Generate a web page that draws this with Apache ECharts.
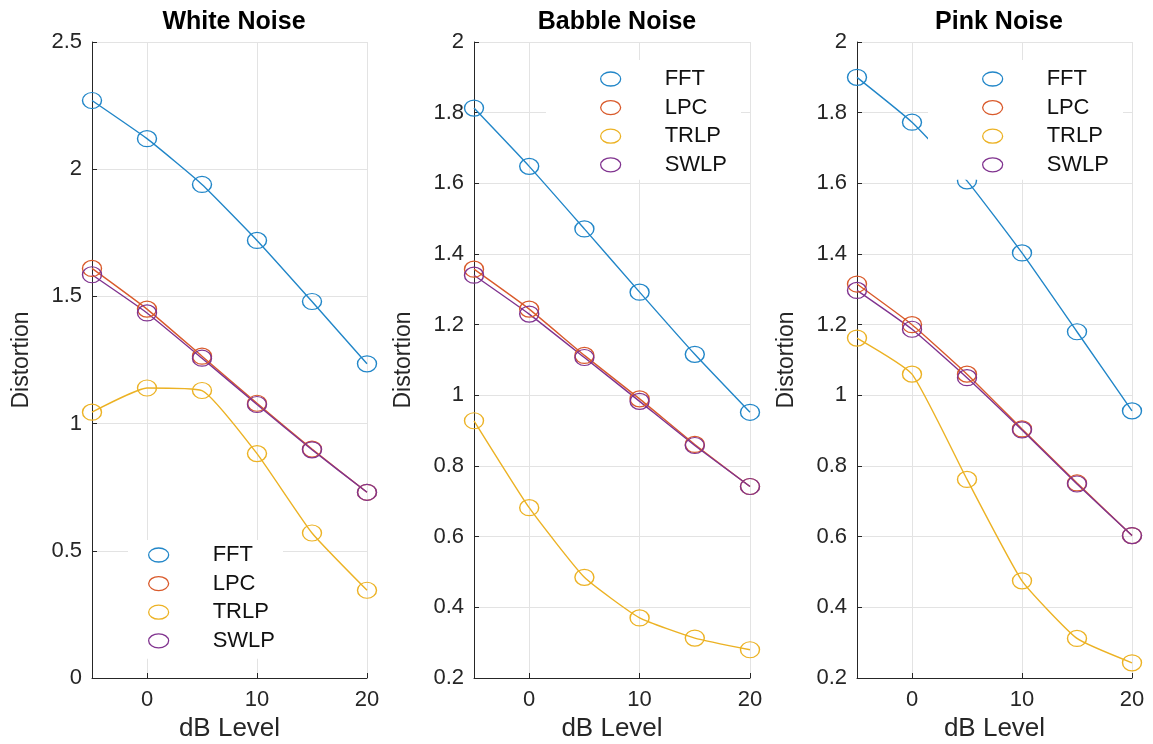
<!DOCTYPE html>
<html>
<head>
<meta charset="utf-8">
<script src="https://cdn.jsdelivr.net/npm/echarts@6/dist/echarts.min.js"></script>
<style>
  html, body { margin: 0; background: #fff; }
  #chart { width: 1153px; height: 744px; }
</style>
</head>
<body>
<div id="chart"></div>
<script>
var dbLevels = [-5, 0, 5, 10, 15, 20];
var xTicks = [0, 10, 20];
var methods = ['FFT', 'LPC', 'TRLP', 'SWLP'];
var panelTitles = ['White Noise', 'Babble Noise', 'Pink Noise'];

// White noise
var whiteFFT  = [2.27, 2.12, 1.94, 1.72, 1.48, 1.235];
var whiteLPC  = [1.61, 1.45, 1.265, 1.08, 0.9, 0.73];
var whiteTRLP = [1.045, 1.14, 1.13, 0.882, 0.57, 0.345];
var whiteSWLP = [1.585, 1.435, 1.257, 1.075, 0.897, 0.73];

// Babble noise
var babbleFFT  = [1.813, 1.648, 1.471, 1.292, 1.116, 0.952];
var babbleLPC  = [1.357, 1.244, 1.113, 0.99, 0.861, 0.742];
var babbleTRLP = [0.928, 0.682, 0.485, 0.37, 0.313, 0.28];
var babbleSWLP = [1.34, 1.23, 1.107, 0.983, 0.858, 0.742];

// Pink noise
var pinkFFT  = [1.9, 1.773, 1.607, 1.403, 1.18, 0.956];
var pinkLPC  = [1.315, 1.2, 1.06, 0.905, 0.752, 0.603];
var pinkTRLP = [1.162, 1.06, 0.762, 0.475, 0.312, 0.243];
var pinkSWLP = [1.297, 1.187, 1.05, 0.902, 0.749, 0.603];

var panelData = [
  [whiteFFT, whiteLPC, whiteTRLP, whiteSWLP],
  [babbleFFT, babbleLPC, babbleTRLP, babbleSWLP],
  [pinkFFT, pinkLPC, pinkTRLP, pinkSWLP]
];
var yRanges = [[0, 2.5, 0.5], [0.2, 2, 0.2], [0.2, 2, 0.2]];

var colors = ['#2186c8', '#d95a2b', '#ecb224', '#80338f'];
var axisColor = '#262626';
var font = 'Liberation Sans, Arial, sans-serif';

// layout of each subplot (px)
var grids = [
  { left: 92, right: 786, top: 42, bottom: 66, outerBoundsMode: 'none' },
  { left: 474, right: 403, top: 42, bottom: 66, outerBoundsMode: 'none' },
  { left: 857, right: 21, top: 42, bottom: 66, outerBoundsMode: 'none' }
];
var legendPos = [
  { left: 128, top: 540, padding: [3, 8, 6, 20] },
  { left: 546, top: 60, padding: [7, 14, 3, 54] },
  { left: 928, top: 60, padding: [7, 14, 3, 54] }
];
var titleX = [229, 612, 994];

var ellipse = 'path://M0,6A8,6 0 1,1 16,6A8,6 0 1,1 0,6Z';

function pairs(vals) {
  return dbLevels.map(function (x, i) { return [x, vals[i]]; });
}

var option = {
  backgroundColor: '#fff',
  animation: false,
  title: panelTitles.map(function (t, i) {
    return {
      text: t, left: titleX[i], top: 5, textAlign: 'center',
      textStyle: { fontFamily: font, fontSize: 25, fontWeight: 'bold', color: '#000' }
    };
  }),
  grid: grids,
  legend: legendPos.map(function (p) {
    return {
      orient: 'vertical',
      left: p.left, top: p.top, padding: p.padding,
      backgroundColor: '#fff',
      itemWidth: 20, itemHeight: 14, itemGap: 4.6,
      symbolKeepAspect: false,
      selectedMode: false,
      z: 10,
      textStyle: { fontFamily: font, fontSize: 22, color: '#111', lineHeight: 24, padding: [0, 0, 0, 39] },
      data: methods.map(function (m, k) {
        return { name: m, icon: ellipse, itemStyle: { color: '#fff', borderColor: colors[k], borderWidth: 1.3 } };
      })
    };
  }),
  xAxis: grids.map(function (g, i) {
    return {
      type: 'value', gridIndex: i, min: -5, max: 20,
      name: 'dB Level', nameLocation: 'middle', nameGap: 35,
      nameTextStyle: { fontFamily: font, fontSize: 26, color: axisColor },
      axisLine: { show: true, onZero: false, lineStyle: { color: axisColor, width: 1 } },
      axisTick: { show: true, inside: true, length: 5, customValues: xTicks, lineStyle: { color: axisColor } },
      axisLabel: { customValues: xTicks, margin: 11, fontFamily: font, fontSize: 22, color: axisColor },
      splitLine: { show: true, lineStyle: { color: '#e3e3e3', width: 1 } }
    };
  }),
  yAxis: grids.map(function (g, i) {
    var r = yRanges[i];
    return {
      type: 'value', gridIndex: i, min: r[0], max: r[1], interval: r[2],
      name: 'Distortion', nameLocation: 'middle', nameGap: 59, nameRotate: 90,
      nameTextStyle: { fontFamily: font, fontSize: 23, color: axisColor },
      axisLine: { show: true, onZero: false, lineStyle: { color: axisColor, width: 1 } },
      axisTick: { show: true, inside: true, length: 5, lineStyle: { color: axisColor } },
      axisLabel: { margin: 10, fontFamily: font, fontSize: 22, color: axisColor },
      splitLine: { show: true, lineStyle: { color: '#e3e3e3', width: 1 } }
    };
  }),
  series: []
};

panelData.forEach(function (sets, i) {
  sets.forEach(function (vals, k) {
    option.series.push({
      name: methods[k], type: 'line',
      xAxisIndex: i, yAxisIndex: i,
      data: pairs(vals),
      smooth: 0.15,
      symbol: ellipse, symbolSize: [19, 16], symbolKeepAspect: false,
      itemStyle: { color: 'rgba(255,255,255,0)', borderColor: colors[k], borderWidth: 1.3 },
      lineStyle: { color: colors[k], width: 1.4 },
      emphasis: { disabled: true },
      z: 2
    });
  });
});

var myChart = echarts.init(document.getElementById('chart'));
option && myChart.setOption(option);
</script>
</body>
</html>
